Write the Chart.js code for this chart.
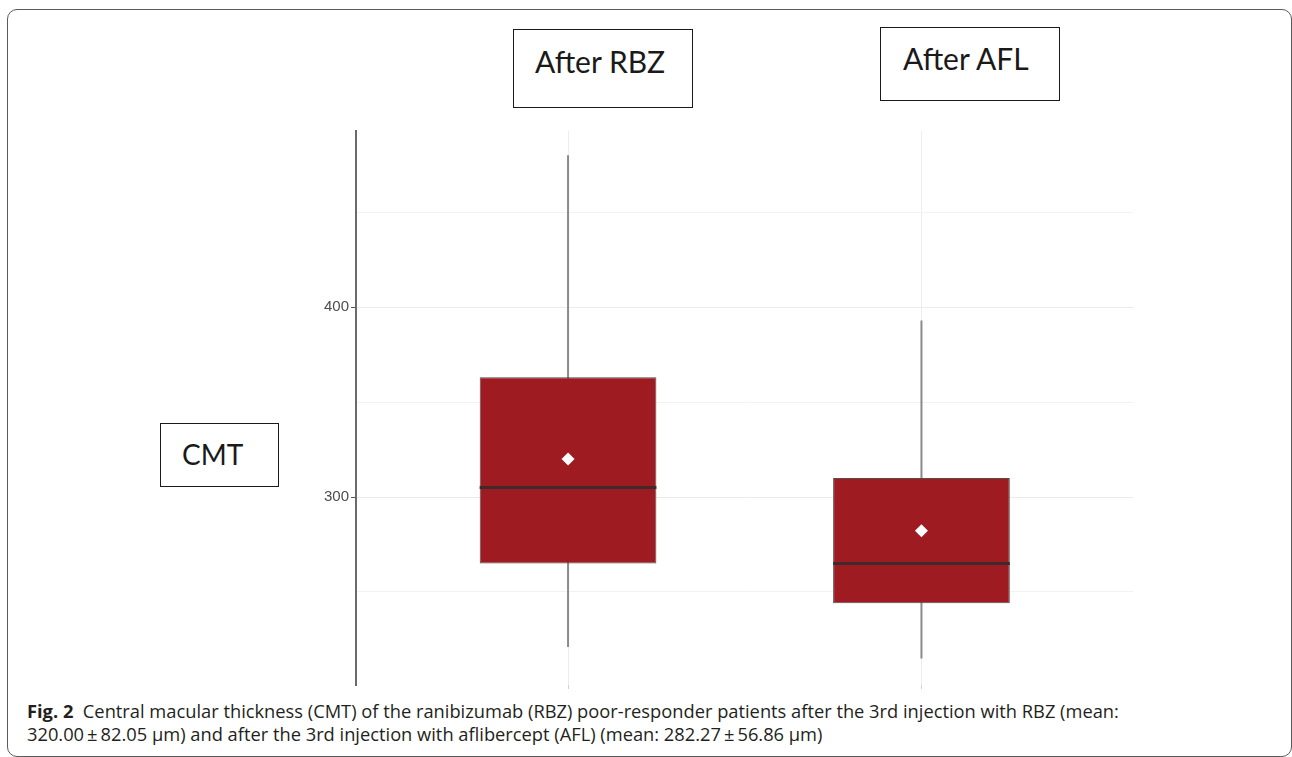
<!DOCTYPE html>
<html lang="en">
<head>
  <meta charset="UTF-8">
  <title>CMT boxplot</title>
  <style>
    * { box-sizing: border-box; }
    body {
      margin: 0;
      width: 1292px;
      height: 757px;
      background: #fff;
      overflow: hidden;
      position: relative;
      font-family: "Open Sans", sans-serif;
    }
    /* rounded figure frame, right and bottom edges sit at the picture edge */
    .frame {
      position: absolute;
      left: 7px; top: 9px;
      width: 1285px; height: 748px;
      border: 1.5px solid #5a5a5a;
      border-radius: 10px;
    }
    .label-box {
      position: absolute;
      border: 1.5px solid #1a1a1a;
      background: #fff;
    }
    .label-text {
      position: absolute;
      font-family: Lato, sans-serif;
      color: #1a1a1a;
      white-space: nowrap;
    }
    #chartWrap {
      position: absolute;
      left: 300px; top: 124px;
      width: 840px; height: 571px;
    }
    .caption {
      position: absolute;
      left: 27px; top: 699px;
      font-size: 18.3px;
      line-height: 23px;
      color: #231f20;
      white-space: nowrap;
    }
    .caption b { font-weight: 700; }
  </style>
  <script src="https://cdn.jsdelivr.net/npm/chart.js@4.4.1/dist/chart.umd.min.js"></script>
</head>
<body>
  <div class="frame"></div>

  <!-- group labels in boxes above the plot -->
  <div class="label-box" style="left:513px; top:29px; width:180px; height:79px;"></div>
  <div class="label-text" id="lab0" style="left:535px; top:46px; font-size:30px; line-height:30px;"></div>
  <div class="label-box" style="left:880px; top:27px; width:180px; height:74px;"></div>
  <div class="label-text" id="lab1" style="left:903px; top:43px; font-size:30px; line-height:30px;"></div>

  <!-- y axis title in a box -->
  <div class="label-box" style="left:160px; top:423px; width:119px; height:64px;"></div>
  <div class="label-text" id="yTitle" style="left:182px; top:440px; font-size:28px; line-height:28px;"></div>

  <div id="chartWrap"><canvas id="boxChart" width="840" height="571"></canvas></div>

  <div class="caption">
    <b>Fig. 2</b>&nbsp; Central macular thickness (CMT) of the ranibizumab (RBZ) poor-responder patients after the 3rd injection with RBZ (mean:<br>
    320.00&thinsp;±&thinsp;82.05 µm) and after the 3rd injection with aflibercept (AFL) (mean: 282.27&thinsp;±&thinsp;56.86 µm)
  </div>

  <script>
    // --- data ---
    const groups = ['After RBZ', 'After AFL'];
    const groupPos = [1, 2];
    const whiskerLow = [221, 215];
    const boxLow = [265, 244];
    const medians = [305, 265];
    const boxHigh = [363, 310];
    const whiskerHigh = [480, 393];
    const means = [320.00, 282.27];
    const yTicks = [250, 300, 350, 400, 450];
    const yLabels = [300, 400];
    const yTitle = 'CMT';

    const BOX_WIDTH = 0.5; // in x units (categories are 1 apart)

    document.getElementById('lab0').textContent = groups[0];
    document.getElementById('lab1').textContent = groups[1];
    document.getElementById('yTitle').textContent = yTitle;

    // whiskers: one vertical line per group
    const whiskerSets = groupPos.map((x, i) => ({
      type: 'line',
      order: 4,
      data: [{ x: x, y: whiskerLow[i] }, { x: x, y: whiskerHigh[i] }],
      borderColor: '#8a8a8a',
      borderWidth: 2,
      pointRadius: 0,
      fill: false
    }));

    // median lines across each box
    const medianSets = groupPos.map((x, i) => ({
      type: 'line',
      order: 2,
      data: [{ x: x - BOX_WIDTH / 2, y: medians[i] }, { x: x + BOX_WIDTH / 2, y: medians[i] }],
      borderColor: '#3e2a2b',
      borderWidth: 3,
      pointRadius: 0,
      fill: false
    }));

    const boxSet = {
      type: 'bar',
      order: 3,
      data: groupPos.map((x, i) => ({ x: x, y: [boxLow[i], boxHigh[i]] })),
      backgroundColor: '#9e1b21',
      borderColor: '#5a4a4a',
      borderWidth: 1,
      borderSkipped: false,
      barPercentage: BOX_WIDTH,
      categoryPercentage: 1
    };

    const meanSet = {
      type: 'scatter',
      order: 1,
      data: groupPos.map((x, i) => ({ x: x, y: means[i] })),
      pointStyle: 'rectRot',
      pointRadius: 6.5,
      backgroundColor: '#ffffff',
      borderColor: '#ffffff',
      borderWidth: 0
    };

    new Chart(document.getElementById('boxChart'), {
      type: 'bar',
      data: { datasets: [...whiskerSets, boxSet, ...medianSets, meanSet] },
      options: {
        responsive: false,
        animation: false,
        events: [],
        layout: { padding: 0 },
        plugins: { legend: { display: false }, tooltip: { enabled: false } },
        scales: {
          x: {
            type: 'linear',
            min: 0.4,
            max: 2.6,
            offset: false,
            afterBuildTicks: s => { s.ticks = groupPos.map(v => ({ value: v })); },
            afterFit: s => { s.height = 10; s.paddingLeft = 0; s.paddingRight = 0; },
            ticks: { display: false },
            grid: { offset: false, color: '#ededed', lineWidth: 1, tickLength: 4, tickColor: '#d0d0d0' },
            border: { display: false }
          },
          y: {
            type: 'linear',
            min: 201,
            max: 493,
            afterBuildTicks: s => { s.ticks = yTicks.map(v => ({ value: v })); },
            afterFit: s => { s.width = 56; s.paddingTop = 0; s.paddingBottom = 0; },
            ticks: {
              padding: 2,
              color: '#4d4d4d',
              font: { family: 'Liberation Sans, Arial, sans-serif', size: 15 },
              callback: v => yLabels.includes(v) ? String(v) : ''
            },
            grid: {
              color: ctx => yLabels.includes(ctx.tick && ctx.tick.value) ? '#ebebeb' : '#f2f2f2',
              lineWidth: 1,
              tickLength: 5,
              tickColor: ctx => yLabels.includes(ctx.tick && ctx.tick.value) ? '#555555' : 'rgba(0,0,0,0)'
            },
            border: { display: true, color: '#6b6b6b', width: 2 }
          }
        }
      }
    });
  </script>
</body>
</html>
